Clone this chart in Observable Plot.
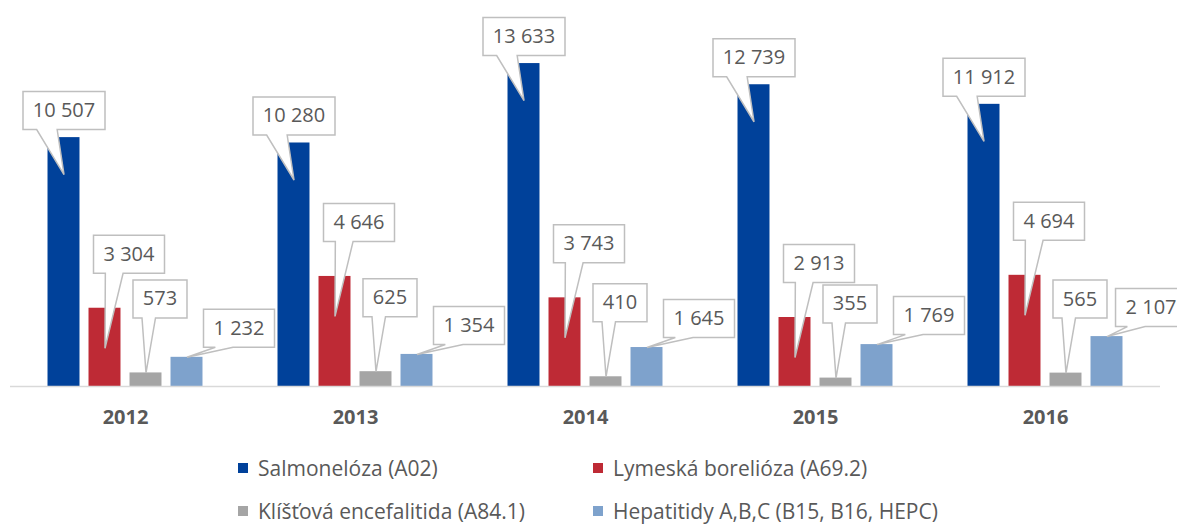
<!DOCTYPE html>
<html>
<head>
<meta charset="utf-8">
<script src="https://cdn.jsdelivr.net/npm/d3@7"></script>
<script src="https://cdn.jsdelivr.net/npm/@observablehq/plot@0.6"></script>
<style>
  html, body { margin: 0; padding: 0; background: #fff; overflow: hidden; }
  #chart { position: relative; width: 1177px; height: 527px; overflow: hidden; font-family: "Open Sans", sans-serif; }
  #chart svg { display: block; }
  .legend-item { position: absolute; height: 24px; line-height: 22px; display: flex; align-items: center; font-size: 21px; color: #595959; white-space: nowrap; }
  .legend-item .sw { width: 10px; height: 10px; margin-right: 10px; flex: none; }
</style>
</head>
<body>
<div id="chart"></div>
<script>
// ---- data ----
const years = ["2012", "2013", "2014", "2015", "2016"];
const series = [
  "Salmonelóza (A02)",
  "Lymeská borelióza (A69.2)",
  "Klíšťová encefalitida (A84.1)",
  "Hepatitidy A,B,C (B15, B16, HEPC)"
];
const salmoneloza = [10507, 10280, 13633, 12739, 11912];
const borelioza   = [3304, 4646, 3743, 2913, 4694];
const encefalitida = [573, 625, 410, 355, 565];
const hepatitidy  = [1232, 1354, 1645, 1769, 2107];
const colors = ["#00419a", "#be2a35", "#a5a5a5", "#7ea2cc"];

// ---- table built from arrays ----
const valuesBySeries = [salmoneloza, borelioza, encefalitida, hepatitidy];
const data = [];
series.forEach((s, si) => years.forEach((y, yi) => data.push({year: y, series: s, si, value: valuesBySeries[si][yi]})));

const fmt = v => d3.format(",")(v).replace(/,/g, " ");

// layout
const W = 1177, H = 440, ML = 10, MR = 17, MT = 7, MB = 54;
const X_PAD_INNER = 0.22, X_PAD_OUTER = 0.915;

// callout layout per series (pixel offsets from bar-top centre)
const calloutStyle = [
  {dx: 0,  dy: -27, tipY: 37},
  {dx: 24, dy: -54, tipY: 40},
  {dx: 14, dy: -74, tipY: 0},
  {dx: 52, dy: -29, tipY: 0}
];
const labelFont = "20px 'Open Sans'";
const ctx2d = document.createElement("canvas").getContext("2d");
ctx2d.font = labelFont;
const BOX_H = 38;

// replicate band layout only to keep callout text inside the right edge
const fxBand = d3.scaleBand(years, [ML, W - MR]).padding(0);
const xBand = d3.scaleBand(series, [0, fxBand.bandwidth()]).paddingInner(X_PAD_INNER).paddingOuter(X_PAD_OUTER);

function calloutSymbol(w, h, cx, cy, tx, ty) {
  return {
    draw(ctx) {
      const l = cx - w / 2, r = cx + w / 2, t = cy - h / 2, b = cy + h / 2;
      const dxp = tx - cx, dyp = ty - cy;
      const dq = dxp * h / w;
      let pts;
      if (Math.abs(dyp) - Math.abs(dq) > 0) {
        const x1 = l + w * (dxp > 0 ? 7 : 2) / 12, x2 = l + w * (dxp > 0 ? 10 : 5) / 12;
        if (dyp > 0) pts = [[l, t], [r, t], [r, b], [x2, b], [tx, ty], [x1, b], [l, b]];
        else pts = [[l, t], [x1, t], [tx, ty], [x2, t], [r, t], [r, b], [l, b]];
      } else {
        const y1 = t + h * (dyp > 0 ? 7 : 2) / 12, y2 = t + h * (dyp > 0 ? 10 : 5) / 12;
        if (dxp < 0) pts = [[l, t], [r, t], [r, b], [l, b], [l, y2], [tx, ty], [l, y1]];
        else pts = [[l, t], [r, t], [r, y1], [tx, ty], [r, y2], [r, b], [l, b]];
      }
      ctx.moveTo(pts[0][0], pts[0][1]);
      for (let i = 1; i < pts.length; i++) ctx.lineTo(pts[i][0], pts[i][1]);
      ctx.closePath();
    }
  };
}

const calloutMarks = data.flatMap(d => {
  const cs = calloutStyle[d.si];
  const label = fmt(d.value);
  const tw = ctx2d.measureText(label).width;
  const w = Math.round(tw + 20);
  const centre = fxBand(d.year) + xBand(d.series) + xBand.bandwidth() / 2;
  const dx = Math.min(cs.dx, W - 1 - tw / 2 - centre);
  return [
    Plot.dot([d], {
      fx: "year", x: "series", y: "value",
      symbol: calloutSymbol(w, BOX_H, dx, cs.dy, 0, cs.tipY),
      fill: "white", stroke: "#bfbfbf", strokeWidth: 1.5
    }),
    Plot.text([d], {
      fx: "year", x: "series", y: "value",
      text: () => label, dx: dx, dy: cs.dy,
      fontSize: 20, fill: "#595959", textAnchor: "middle"
    })
  ];
});

const plot = Plot.plot({
  width: W,
  height: H,
  marginLeft: ML,
  marginRight: MR,
  marginTop: MT,
  marginBottom: MB,
  style: {fontFamily: "'Open Sans', sans-serif", background: "white", overflow: "visible"},
  fx: {domain: years, padding: 0, axis: null, label: null},
  x: {domain: series, paddingInner: X_PAD_INNER, paddingOuter: X_PAD_OUTER, axis: null, round: false},
  y: {domain: [0, 16000], axis: null},
  color: {domain: series, range: colors},
  marks: [
    Plot.barY(data, {fx: "year", x: "series", y: "value", fill: "series"}),
    Plot.ruleY([0], {stroke: "#d9d9d9", strokeWidth: 1.5}),
    ...calloutMarks,
    Plot.axisFx({anchor: "bottom", tickSize: 0, tickPadding: 23, fontSize: 20, fontWeight: "bold", fill: "#595959", label: null})
  ]
});

const chart = document.getElementById("chart");
chart.appendChild(plot);

// legend (HTML, below the SVG)
const legendPos = [[238, 456], [593, 456], [238, 499], [593, 499]];
series.forEach((s, i) => {
  const item = document.createElement("div");
  item.className = "legend-item";
  item.style.left = legendPos[i][0] + "px";
  item.style.top = legendPos[i][1] + "px";
  const sw = document.createElement("span");
  sw.className = "sw";
  sw.style.background = colors[i];
  const tx = document.createElement("span");
  tx.textContent = s;
  item.appendChild(sw);
  item.appendChild(tx);
  chart.appendChild(item);
});
</script>
</body>
</html>
